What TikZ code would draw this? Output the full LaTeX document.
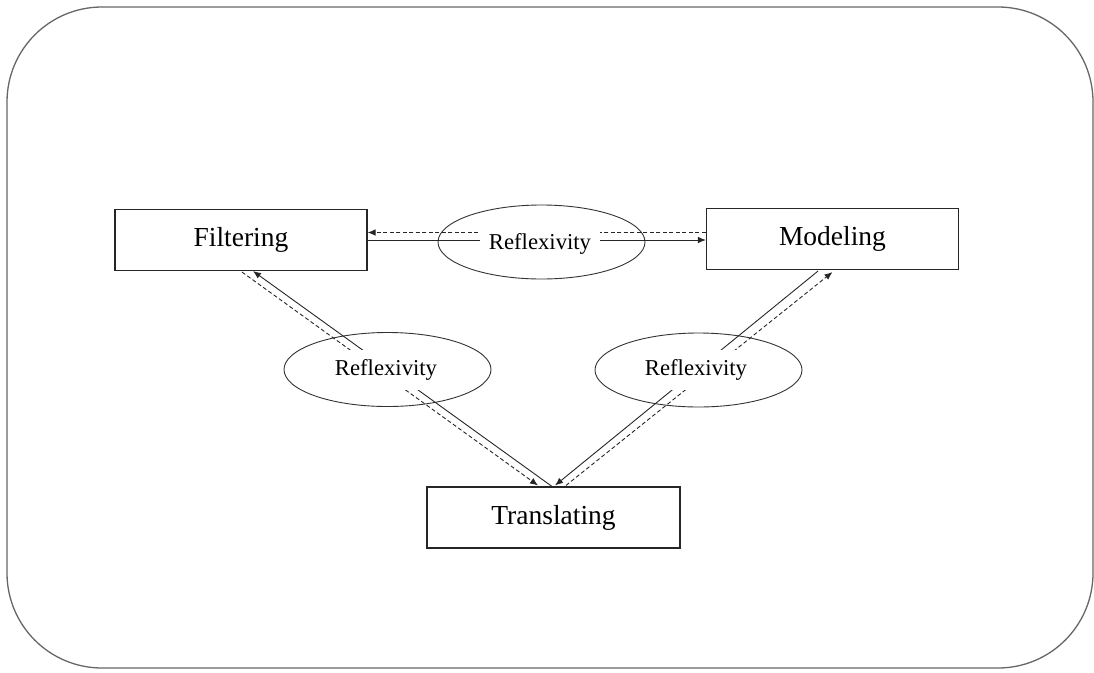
\documentclass[tikz,border=0pt]{standalone}
\usepackage{fontspec}
\setmainfont{Liberation Serif}
\usetikzlibrary{arrows.meta,shapes.geometric}
\begin{document}
\begin{tikzpicture}[x=1pt,y=-1pt,
  stagebox/.style={draw=black!85,line width=1.1pt,rectangle,inner sep=0pt,
    minimum width=252pt,minimum height=61pt,font=\fontsize{27.5}{33}\selectfont},
  reflring/.style={draw=black!80,line width=0.9pt,ellipse,inner sep=0pt,
    minimum width=207pt,minimum height=74pt},
  refltext/.style={fill=white,inner xsep=9pt,inner ysep=9.5pt,
    font=\fontsize{22.7}{27}\selectfont},
  solidarr/.style={draw=black!85,line width=0.9pt,-{Latex[length=8pt,width=6.5pt]}},
  dasharr/.style={draw=black!85,line width=0.9pt,dash pattern=on 4pt off 2.5pt,-{Latex[length=8pt,width=6.5pt]}}
]
\useasboundingbox (0,0) rectangle (1094,672);
\draw[draw=black!60,line width=1.3pt,rounded corners=95pt] (7,7) rectangle (1093,668);

\node[stagebox] (F) at (241,240) {Filtering};
\node[stagebox] (M) at (832.5,239) {Modeling};
\node[stagebox,minimum width=253pt] (T) at (553.5,517.5) {Translating};

\node[reflring] (E1) at (541.5,242) {};
\node[reflring] (E2) at (387.5,369.5) {};
\node[reflring] (E3) at (698.5,370) {};

% top pair
\draw[solidarr] (F.east) -- (F.east -| M.west);
\draw[dasharr] ([yshift=7.5pt]F.east -| M.west) -- ([yshift=7.5pt]F.east);
% left pair
\draw[solidarr] ([xshift=-1.5pt]T.north) -- ([xshift=12pt]F.south);
\draw[dasharr] ([xshift=1pt,yshift=-1pt]F.south) -- ([xshift=-15.5pt,yshift=1pt]T.north);
% right pair
\draw[solidarr] ([xshift=-14.5pt,yshift=-1pt]M.south) -- ([xshift=1.5pt,yshift=1pt]T.north);
\draw[dasharr] ([xshift=12.5pt,yshift=1pt]T.north) -- ([yshift=-2pt]M.south);

\node[refltext] (R1) at (540,244) {Reflexivity};
\node[refltext] (R2) at (386,370) {Reflexivity};
\node[refltext] (R3) at (696,370) {Reflexivity};
\end{tikzpicture}
\end{document}
